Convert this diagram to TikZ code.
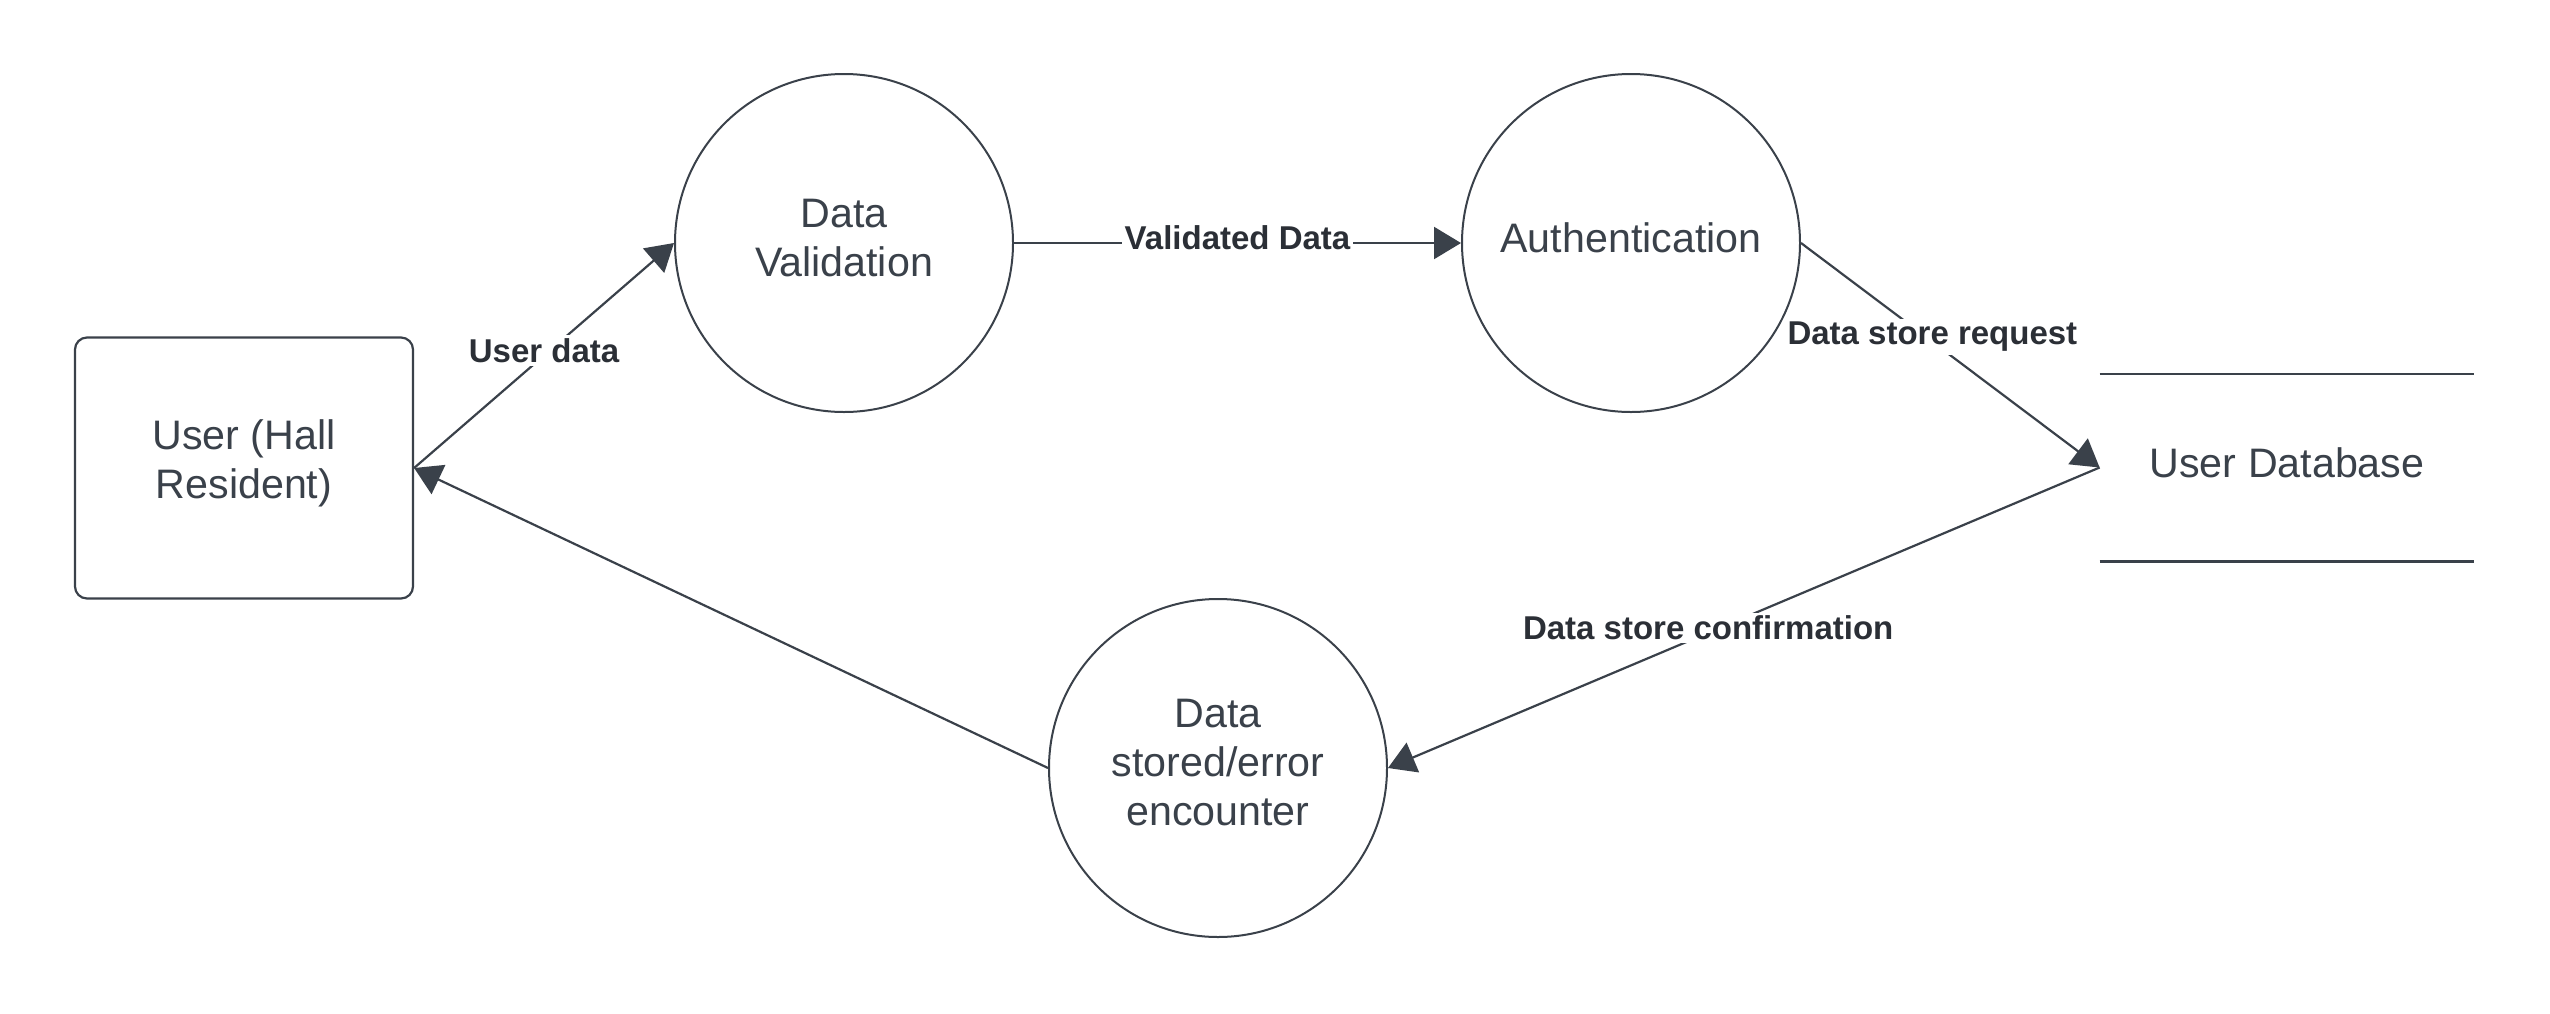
\documentclass[tikz,border=0pt]{standalone}
\usepackage{fontspec}
\setmainfont{Liberation Sans}
\usetikzlibrary{arrows.meta}
\definecolor{ink}{HTML}{3A414A}
\definecolor{lbl}{HTML}{2B2F36}
\begin{document}
\begin{tikzpicture}[x=0.5pt,y=-0.5pt,
  proc/.style={circle,draw=ink,line width=1pt,minimum size=169pt,inner sep=0pt},
  ext/.style={rectangle,rounded corners=6pt,draw=ink,line width=1.1pt,minimum width=169pt,minimum height=130.5pt},
  txt/.style={align=center,text=ink,inner sep=0pt,font=\fontsize{20.6}{24.5}\selectfont},
  store/.style={rectangle,minimum width=187pt,minimum height=93.5pt,inner sep=0pt},
  flow/.style={draw=ink,line width=1.1pt,-{Triangle[length=13.5pt,width=16pt]}},
  lab/.style={fill=white,text=lbl,yshift=2.5pt,font=\bfseries\fontsize{16.5}{20}\selectfont,inner sep=1.5pt}]
\useasboundingbox (0,0) rectangle (2550,1013);
\node[ext] (user) at (244,468) {};
\node[txt] (usert) at (244,463) {User (Hall\\Resident)};
\node[proc] (dv) at (844,243) {};
\node[txt] (dvt) at (844,238) {Data\\Validation};
\node[proc] (auth) at (1631,243) {};
\node[txt] (autht) at (1631,238) {Authentication};
\node[proc] (ds) at (1218,768) {};
\node[txt] (dst) at (1218,763) {Data\\stored/error\\encounter};
\node[store] (db) at (2287,467.5) {};
\node[txt] (dbt) at (2287,463) {User Database};
\draw[ink,line width=1.1pt] (db.north west) -- (db.north east);
\draw[ink,line width=1.1pt] (db.south west) -- (db.south east);
\draw[flow] (user.east) -- node[lab] (l1) {User data} (dv.west);
\draw[flow] (dv.east) -- node[lab] (l2) {Validated Data} (auth.west);
\draw[flow] (auth.east) -- node[lab,pos=0.44] (l3) {Data store request} (db.west);
\draw[flow] (db.west) -- node[lab,pos=0.55] (l4) {Data store confirmation} (ds.east);
\draw[flow] (ds.west) -- (user.east);
\end{tikzpicture}
\end{document}
